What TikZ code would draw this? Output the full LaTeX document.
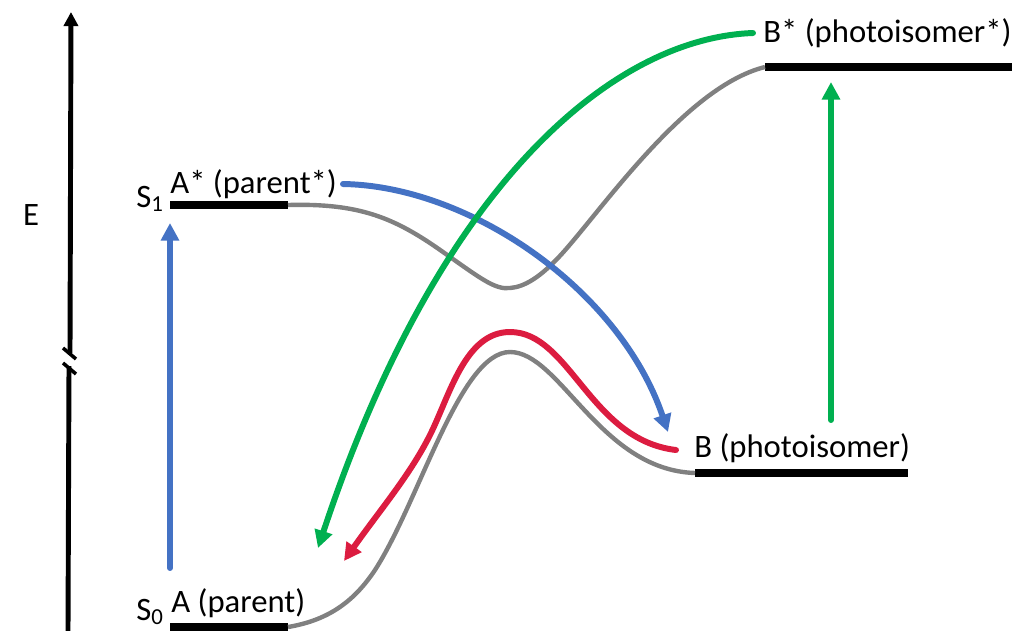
\documentclass[tikz,border=0pt]{standalone}
\usepackage{fontspec}
\setmainfont{Carlito}
\usetikzlibrary{arrows.meta}
\definecolor{pesgray}{HTML}{808080}
\definecolor{exblue}{HTML}{4472C4}
\definecolor{exgreen}{HTML}{00B050}
\definecolor{rxred}{HTML}{DC1C40}

\begin{document}
\begin{tikzpicture}[x=0.02cm, y=-0.02cm,
    every node/.style={font=\fontsize{18.6}{22}\selectfont, inner sep=0pt},
    lvl/.style={line width=4pt},
    pes/.style={line width=2.5pt, draw=pesgray},
    ax/.style={line width=2.8pt},
    tr/.style={line width=3.4pt, line cap=round, -{Triangle[length=10pt,width=10pt]}},
  ]
  \useasboundingbox (0,0) rectangle (1015,630);
  % energy axis with break
  \coordinate (axb) at (68,632);
  \coordinate (axm) at (69,366);
  \coordinate (axn) at (70,353);
  \coordinate (axt) at (71,12);
  \draw[ax] (axb) -- (axm);
  \draw[ax, -{Triangle[length=8pt,width=8pt]}] (axn) -- (axt);
  \draw[line width=2pt] (63,348) -- (76,359);
  \draw[line width=2pt] (63,363) -- (76,374);
  \node (e) at (31,215) {E};
  % levels
  \coordinate (s0l) at (170,627);
  \coordinate (s0r) at (288,627);
  \coordinate (s1l) at (170,205);
  \coordinate (s1r) at (288,205);
  \coordinate (bl) at (695,473);
  \coordinate (br) at (908,473);
  \coordinate (bsl) at (765,67);
  \coordinate (bsr) at (1012,67);
  \draw[lvl] (s0l) -- (s0r);
  \draw[lvl] (s1l) -- (s1r);
  \draw[lvl] (bl) -- (br);
  \draw[lvl] (bsl) -- (bsr);
  \node[anchor=base west] (s0) at (136,620) {S\textsubscript{0}};
  \node[anchor=base west] (s1) at (136,207) {S\textsubscript{1}};
  \node[anchor=base west] (a) at (171,612) {A (parent)};
  \node[anchor=base west] (as) at (170,193) {A* (parent*)};
  \node[anchor=base west] (b) at (694,457) {B (photoisomer)};
  \node[anchor=base west] (bs) at (763,42) {B* (photoisomer*)};
  % potential energy curves
  \draw[pes] (s1r) .. controls (360,203) and (395,218) .. (443,252)
    .. controls (480,278) and (495,290) .. (510,288)
    .. controls (525,287) and (540,276) .. (553,263)
    .. controls (590,228) and (680,88) .. (bsl);
  \draw[pes] (s0r) .. controls (330,620) and (355,600) .. (375,570)
    .. controls (420,500) and (460,352) .. (510,352)
    .. controls (560,352) and (600,470) .. (bl);
  % transitions
  \coordinate (ab0) at (170,568);
  \coordinate (ab1) at (170,223);
  \coordinate (gb0) at (831,420);
  \coordinate (gb1) at (831,82);
  \coordinate (bl0) at (343,184);
  \coordinate (bl1) at (668,432);
  \coordinate (gr0) at (753,33);
  \coordinate (gr1) at (318,548);
  \coordinate (rd0) at (676,450);
  \coordinate (rd1) at (344,561);
  \draw[tr, exblue] (ab0) -- (ab1);
  \draw[tr, exgreen] (gb0) -- (gb1);
  \draw[tr, exblue] (bl0) .. controls (470,186) and (620,290) .. (bl1);
  \draw[tr, exgreen] (gr0) .. controls (615,38) and (440,180) .. (gr1);
  \draw[tr, rxred] (rd0) .. controls (590,440) and (570,332) .. (510,332)
    .. controls (465,332) and (450,395) .. (430,435)
    .. controls (410,475) and (380,510) .. (rd1);
\end{tikzpicture}
\end{document}
